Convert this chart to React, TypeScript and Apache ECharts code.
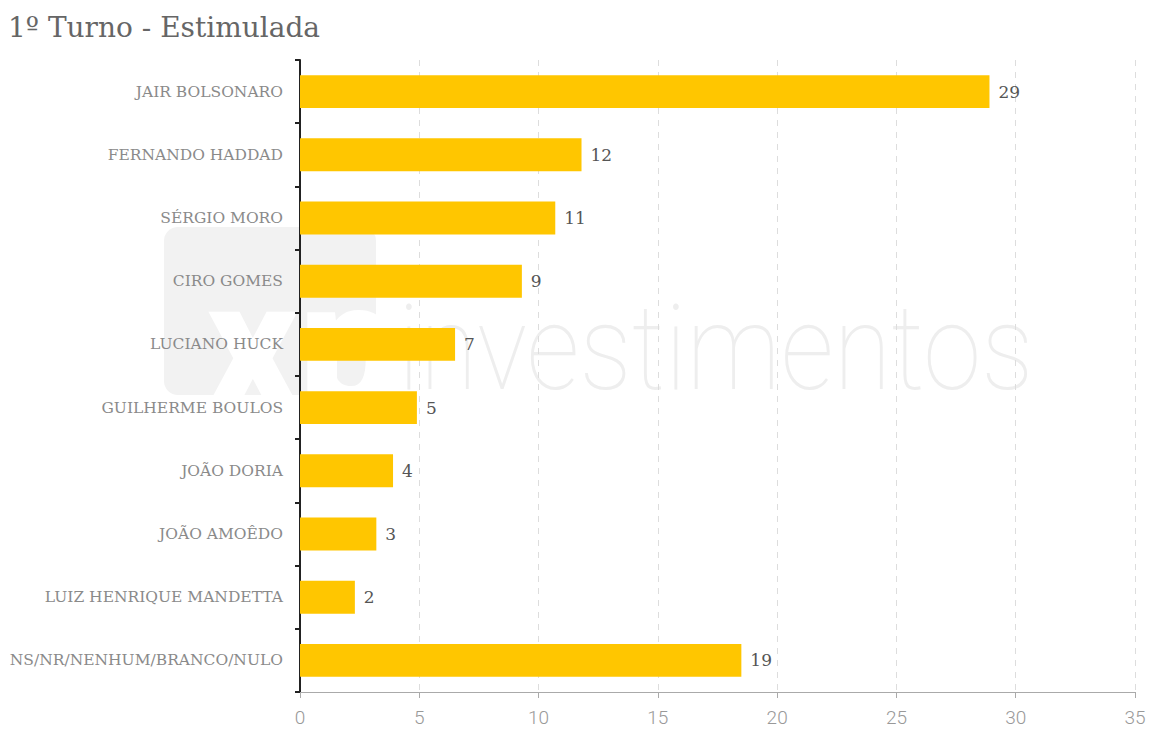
import React, { useEffect, useRef } from "react";
import * as echarts from "echarts";

const titleText = "1º Turno - Estimulada";
const categories = [
  "JAIR BOLSONARO",
  "FERNANDO HADDAD",
  "SÉRGIO MORO",
  "CIRO GOMES",
  "LUCIANO HUCK",
  "GUILHERME BOULOS",
  "JOÃO DORIA",
  "JOÃO AMOÊDO",
  "LUIZ HENRIQUE MANDETTA",
  "NS/NR/NENHUM/BRANCO/NULO",
];
const values = [28.9, 11.8, 10.7, 9.3, 6.5, 4.9, 3.9, 3.2, 2.3, 18.5];
const valueLabels = ["29", "12", "11", "9", "7", "5", "4", "3", "2", "19"];
const xMin = 0;
const xMax = 35;
const xInterval = 5;

export default function App() {
  const ref = useRef<HTMLDivElement>(null);
  useEffect(() => {
    document.body.style.margin = "0";
    const chart = echarts.init(ref.current!, null, { renderer: "svg" });
    const slab = "'DejaVu Serif', 'Liberation Serif', serif";
    chart.setOption({
      animation: false,
      backgroundColor: "#ffffff",
      title: {
        text: titleText,
        left: 3,
        top: 8,
        textStyle: {
          fontFamily: slab,
          fontWeight: "normal",
          fontSize: 28,
          color: "#666666",
        },
      },
      graphic: [
        {
          type: "rect",
          z: -10,
          silent: true,
          shape: { x: 164, y: 227, width: 212, height: 168, r: 14 },
          style: { fill: "#f2f2f2" },
        },
        {
          type: "text",
          z: -9,
          silent: true,
          x: 206,
          y: 255,
          style: {
            text: "xp",
            fontFamily: "Roboto, sans-serif",
            fontWeight: 900,
            fontSize: 180,
            fill: "#ffffff",
          },
        },
        {
          type: "text",
          z: -9,
          silent: true,
          x: 398,
          y: 289,
          scaleX: 0.89,
          style: {
            text: "investimentos",
            fontFamily: "Roboto, sans-serif",
            fontWeight: 100,
            fontSize: 118,
            fill: "#eeeeee",
          },
        },
      ],
      grid: { left: 300, right: 23, top: 60, bottom: 54, containLabel: false },
      xAxis: {
        type: "value",
        min: xMin,
        max: xMax,
        interval: xInterval,
        axisLine: { show: true, lineStyle: { color: "#aaaaaa", width: 1 } },
        axisTick: { show: true, length: 6, lineStyle: { color: "#aaaaaa" } },
        axisLabel: {
          margin: 16,
          fontFamily: "Roboto, sans-serif",
          fontWeight: 300,
          fontSize: 19,
          color: "#999999",
        },
        splitLine: {
          show: true,
          lineStyle: { color: "#dddddd", type: [6, 6], width: 1 },
        },
      },
      yAxis: {
        type: "category",
        data: categories,
        inverse: true,
        axisLine: { show: true, lineStyle: { color: "#222222", width: 2 } },
        axisTick: {
          show: true,
          length: 5,
          alignWithLabel: false,
          lineStyle: { color: "#222222", width: 2 },
        },
        axisLabel: {
          margin: 17,
          fontFamily: slab,
          fontSize: 15.5,
          color: "#8a8a8a",
        },
        splitLine: { show: false },
      },
      series: [
        {
          type: "bar",
          data: values,
          barWidth: "52%",
          itemStyle: { color: "#ffc600" },
          label: {
            show: true,
            position: "right",
            distance: 9,
            fontFamily: slab,
            fontSize: 17,
            color: "#555555",
            formatter: (p: any) => valueLabels[p.dataIndex],
          },
        },
      ],
    });
    return () => chart.dispose();
  }, []);
  return <div ref={ref} style={{ width: 1158, height: 746 }} />;
}
